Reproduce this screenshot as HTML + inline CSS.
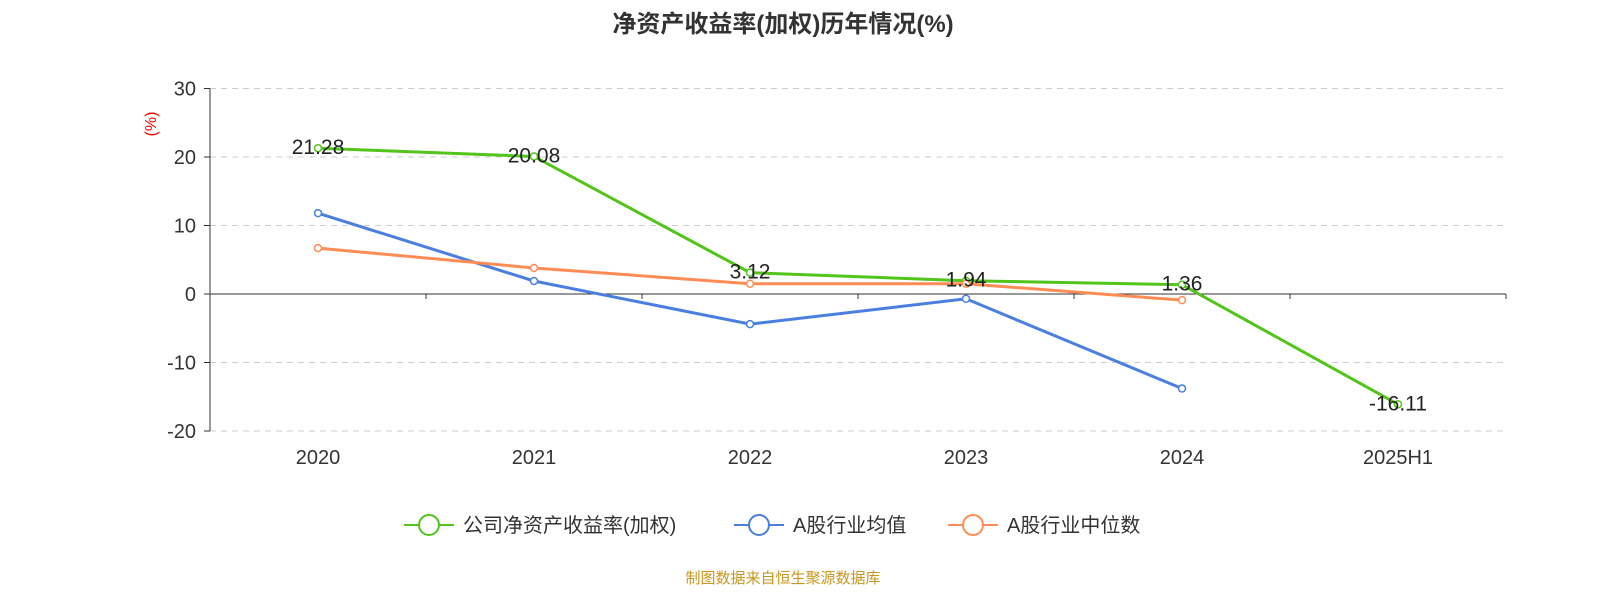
<!DOCTYPE html>
<html><head><meta charset="utf-8"><style>
body{margin:0;background:#fff;font-family:"Liberation Sans","Noto Sans CJK SC",sans-serif}
</style></head><body>
<svg id="chart" width="1600" height="600" xmlns="http://www.w3.org/2000/svg" font-family="Liberation Sans, Noto Sans CJK SC, sans-serif">
<text x="783" y="32" text-anchor="middle" font-size="24" font-weight="bold" fill="#333">净资产收益率(加权)历年情况(%)</text>
<text x="0" y="0" transform="translate(156,124) rotate(-90)" text-anchor="middle" font-size="16" fill="#e00">(%)</text>
<g id="grid"></g><g id="axes"></g><g id="series"></g><g id="labels"></g>
<g id="legend"></g>
<text x="783" y="583" text-anchor="middle" font-size="15" fill="#c8961e">制图数据来自恒生聚源数据库</text>
</svg>
<script>
const categories=["2020","2021","2022","2023","2024","2025H1"];
const yTicks=[30,20,10,0,-10,-20];
const companyRoe=[21.28,20.08,3.12,1.94,1.36,-16.11];
const industryAvg=[11.8,1.9,-4.4,-0.7,-13.8,null];
const industryMedian=[6.7,3.8,1.5,1.5,-0.9,null];
const seriesNames=["公司净资产收益率(加权)","A股行业均值","A股行业中位数"];
const colors=["#52c41a","#4a7fe0","#ff8c55"];
const NS="http://www.w3.org/2000/svg";
const x0=210,x1=1506,band=(x1-x0)/categories.length;
function xs(i){return x0+band*(i+0.5);}
function ys(v){return 294-v*6.85;}
function mk(t,a,p){const e=document.createElementNS(NS,t);for(const k in a)e.setAttribute(k,a[k]);document.getElementById(p).appendChild(e);return e;}
yTicks.forEach(v=>{
 if(v!==0){const l=mk('line',{x1:x0,x2:x1,y1:ys(v),y2:ys(v),stroke:'#ccc','stroke-dasharray':'6,5'},'grid');
 
 }
 const tk=mk('line',{x1:x0-6,x2:x0,y1:ys(v),y2:ys(v),stroke:'#333'},'axes');
 
 
 const t=mk('text',{x:x0-14,y:ys(v)+7,'text-anchor':'end','font-size':20,fill:'#333'},'axes');
 t.textContent=v;
 
 
});
const ya=mk('line',{x1:x0,x2:x0,y1:ys(30),y2:ys(-20),stroke:'#333'},'axes');


const xa=mk('line',{x1:x0,x2:x1,y1:ys(0),y2:ys(0),stroke:'#333'},'axes');


for(let i=0;i<=categories.length;i++){
 const tk=mk('line',{x1:x0+band*i,x2:x0+band*i,y1:ys(0),y2:ys(0)+5,stroke:'#333'},'axes');
 
 
}
categories.forEach((c,i)=>{
 const t=mk('text',{x:xs(i),y:464,'text-anchor':'middle','font-size':20,fill:'#333'},'axes');
 t.textContent=c;
 
 
});
[companyRoe,industryAvg,industryMedian].forEach((s,k)=>{
 const pts=s.map((v,i)=>v==null?null:xs(i)+','+ys(v)).filter(p=>p);
 const pl=mk('polyline',{points:pts.join(' '),fill:'none',stroke:colors[k],'stroke-width':3},'series');
 
 
 s.forEach((v,i)=>{if(v==null)return;
  const c=mk('circle',{cx:xs(i),cy:ys(v),r:3.5,fill:'#fff',stroke:colors[k],'stroke-width':1.5},'series');
  
  
 });
});
companyRoe.forEach((v,i)=>{
 const t=mk('text',{x:xs(i),y:ys(v)+6,'text-anchor':'middle','font-size':21,fill:'#222'},'labels');
 t.textContent=v.toFixed(2);
 
 
});
const lx=[404,734,948];
seriesNames.forEach((n,k)=>{
 const g=mk('g',{},'legend');
 
 
 const l=document.createElementNS(NS,'line');
 [['x1',lx[k]],['x2',lx[k]+50],['y1',525],['y2',525],['stroke',colors[k]],['stroke-width',2]].forEach(a=>l.setAttribute(a[0],a[1]));g.appendChild(l);
 const c=document.createElementNS(NS,'circle');
 [['cx',lx[k]+25],['cy',525],['r',10],['fill','#fff'],['stroke',colors[k]],['stroke-width',2]].forEach(a=>c.setAttribute(a[0],a[1]));g.appendChild(c);
 const t=document.createElementNS(NS,'text');
 [['x',lx[k]+59],['y',532],['font-size',20],['fill','#333']].forEach(a=>t.setAttribute(a[0],a[1]));t.textContent=n;g.appendChild(t);
});
</script>
</body></html>
